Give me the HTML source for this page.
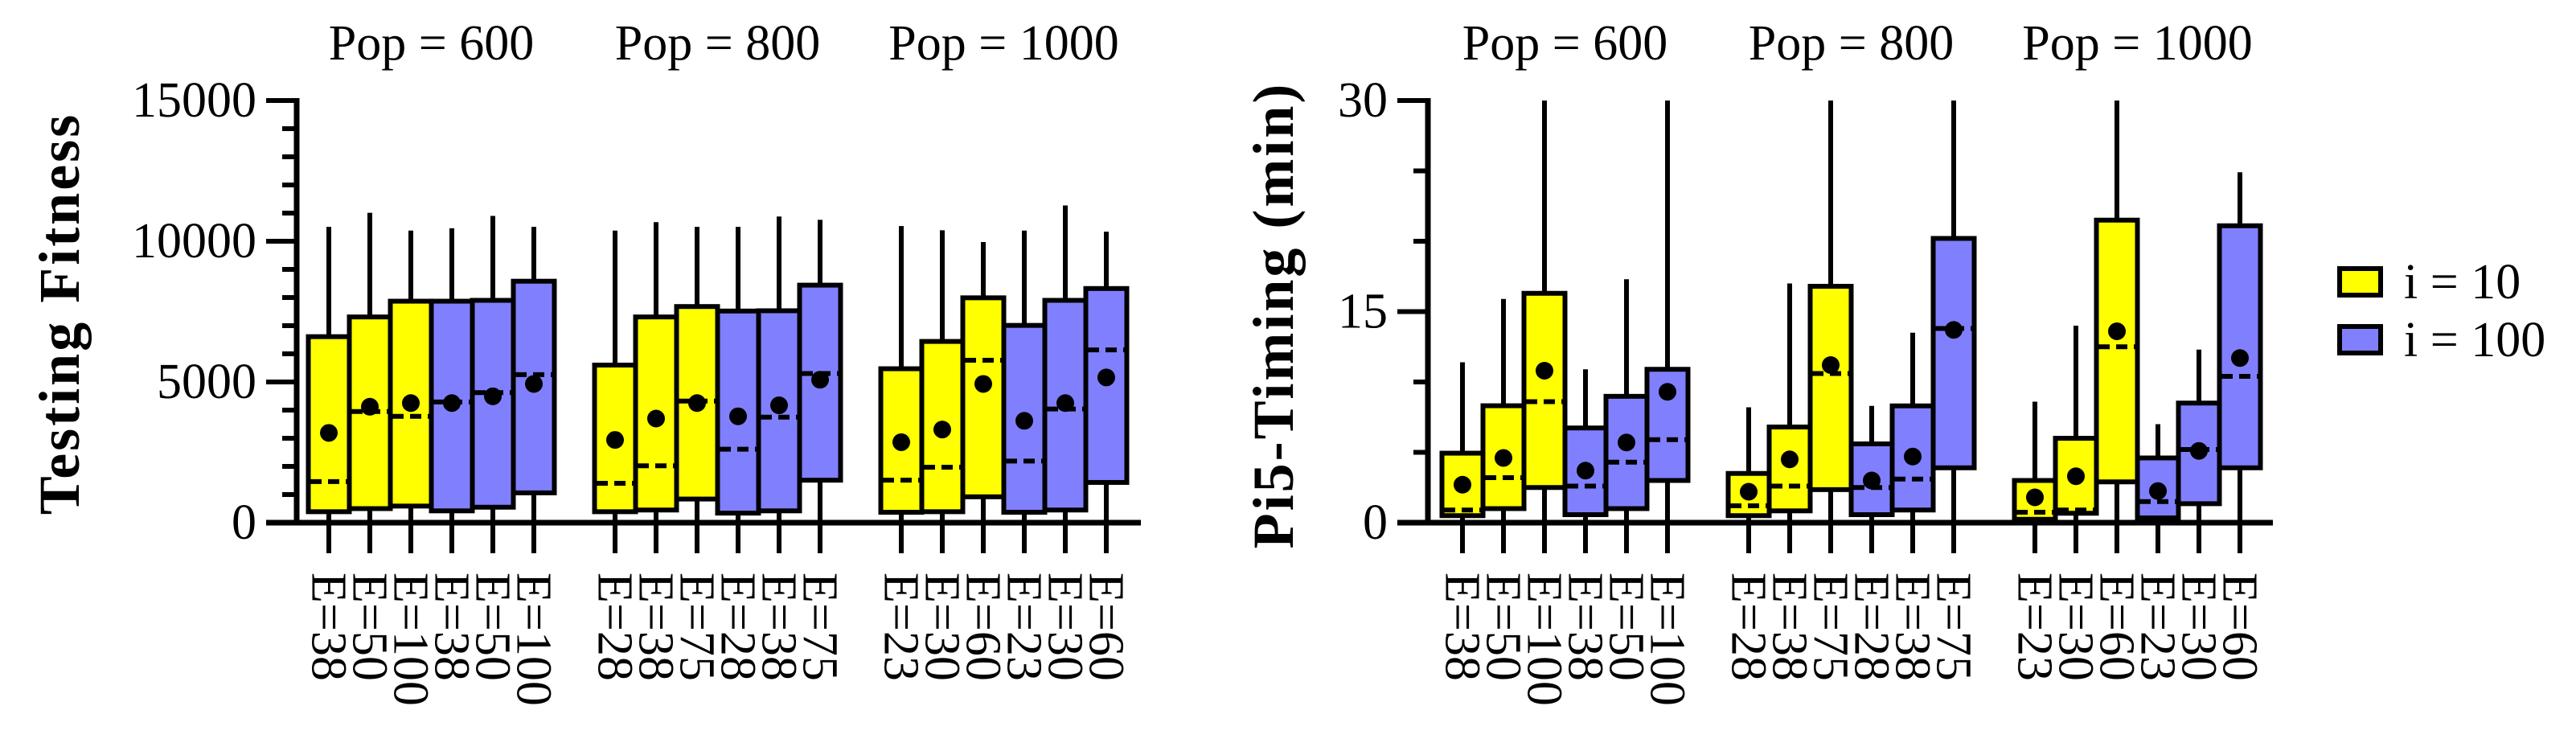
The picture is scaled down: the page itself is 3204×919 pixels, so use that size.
<!DOCTYPE html>
<html><head><meta charset="utf-8"><style>
html,body{margin:0;padding:0;background:#fff;}
svg{display:block;font-family:"Liberation Serif",serif;}
</style></head><body>
<svg id="chart" width="3204" height="919" viewBox="0 0 3204 919" xmlns="http://www.w3.org/2000/svg"></svg>
<script>
const NS="http://www.w3.org/2000/svg";
const svg=document.getElementById('chart');
// ---- data ----
const groupTitles=["Pop = 600","Pop = 800","Pop = 1000"];
const fitLabels=[["E=38","E=50","E=100","E=38","E=50","E=100"],["E=28","E=38","E=75","E=28","E=38","E=75"],["E=23","E=30","E=60","E=23","E=30","E=60"]];
const seriesOf=["i10","i10","i10","i100","i100","i100"];
const fitWhiskTop=[[10510,11010,10380,10460,10900,10510],[10380,10680,10510,10510,10880,10760],[10540,10390,9970,10380,11270,10340]];
const fitQ3=[[6610,7310,7870,7870,7900,8580],[5600,7310,7680,7520,7530,8440],[5470,6440,7990,7010,7900,8320]];
const fitQ1=[[390,500,590,420,550,1060],[390,450,840,340,420,1510],[370,390,920,370,450,1430]];
const fitMedian=[[1460,3950,3780,4290,4620,5260],[1400,2020,4320,2610,3750,5300],[1510,1970,5770,2190,4040,6140]];
const fitMean=[[3190,4120,4250,4250,4490,4930],[2940,3700,4250,3780,4170,5080],[2860,3310,4930,3620,4250,5160]];
const fitTicks=[0,5000,10000,15000];
const timeWhiskTop=[[11.4,15.9,30,10.9,17.3,30],[8.2,17.0,30,8.3,13.5,30],[8.6,14.0,30,7.0,12.3,24.9]];
const timeQ3=[[4.94,8.31,16.3,6.73,8.98,10.9],[3.5,6.8,16.8,5.6,8.3,20.2],[3.0,6.0,21.5,4.6,8.5,21.1]];
const timeQ1=[[0.5,1.0,2.5,0.57,1.0,3.0],[0.5,0.84,2.35,0.57,0.9,3.9],[0.24,0.67,2.9,0.34,1.35,3.9]];
const timeMedian=[[0.9,3.2,8.6,2.6,4.3,5.9],[1.2,2.6,10.6,2.5,3.1,13.8],[0.74,0.9,12.5,1.5,5.2,10.4]];
const timeMean=[[2.7,4.6,10.8,3.7,5.7,9.3],[2.2,4.5,11.2,3.0,4.7,13.7],[1.8,3.3,13.6,2.25,5.1,11.7]];
const timeTicks=[0,15,30];
const legendLabels=["i = 10","i = 100"];
const COL={i10:"#ffff00",i100:"#8080ff"};

function el(tag,attrs,parent){const e=document.createElementNS(NS,tag);for(const k in attrs)e.setAttribute(k,attrs[k]);(parent||svg).appendChild(e);return e;}

function panel(opt){
  const g=el('g',{});
  
  
  const y0=650,yTop=125;
  const yS=v=>y0-(v-opt.min)/(opt.max-opt.min)*(y0-yTop);
  const xS=(gi,bi)=>opt.gx0+gi*356+bi*51;
  for(let v=opt.min;v<=opt.max+1e-9;v+=opt.minor){
    const major=opt.ticks.some(t=>Math.abs(t-v)<1e-9);
    const t=el('line',{x1:major?opt.ax-38:opt.ax-18,x2:opt.ax,y1:yS(v),y2:yS(v),stroke:'#000','stroke-width':6},g);
    
    
  }
  opt.ticks.forEach(v=>{
    const t=el('text',{x:opt.ax-50,y:yS(v)+20,'text-anchor':'end','font-size':62},g);
    t.textContent=v;
    
    
  });
  const ya=el('line',{x1:opt.ax,x2:opt.ax,y1:yTop-3,y2:y0+3,stroke:'#000','stroke-width':7},g);
  
  
  const yt=el('text',{x:0,y:0,'text-anchor':'middle','font-size':72,'font-weight':'bold','letter-spacing':3,transform:`translate(${opt.titleX},${opt.titleY}) rotate(-90)`},g);
  yt.textContent=opt.title;
  
  
  for(let gi=0;gi<3;gi++){
    const gt=el('text',{x:xS(gi,2.5),y:74,'text-anchor':'middle','font-size':62},g);
    gt.textContent=groupTitles[gi];
    
    
    for(let bi=0;bi<6;bi++){
      const cx=xS(gi,bi);
      const bg=el('g',{},g);
      
      
      const w1=el('line',{x1:cx,x2:cx,y1:yS(opt.wt[gi][bi]),y2:yS(opt.q3[gi][bi]),stroke:'#000','stroke-width':6},bg);
      
      
      const w2=el('line',{x1:cx,x2:cx,y1:yS(opt.q1[gi][bi]),y2:688,stroke:'#000','stroke-width':6},bg);
      
      
      const r=el('rect',{x:cx-25.5,y:yS(opt.q3[gi][bi]),width:51,height:yS(opt.q1[gi][bi])-yS(opt.q3[gi][bi]),fill:COL[seriesOf[bi]],stroke:'#000','stroke-width':6},bg);
      
      
      const m=el('line',{x1:cx-23,x2:cx+23,y1:yS(opt.med[gi][bi]),y2:yS(opt.med[gi][bi]),stroke:'#000','stroke-width':6,'stroke-dasharray':'14 8'},bg);
      
      
      const d=el('circle',{cx:cx,cy:yS(opt.mean[gi][bi]),r:11,fill:'#000'},bg);
      
      
      const lb=el('text',{x:cx,y:712,dy:'0.33em','font-size':62,transform:`rotate(90,${cx},712)`},g);
      lb.textContent=opt.labels[gi][bi];
      
      
    }
  }
  const xa=el('line',{x1:opt.ax-38,x2:opt.xEnd,y1:y0,y2:y0,stroke:'#000','stroke-width':7},g);
  
  
}
panel({name:'fitness-panel',min:0,max:15000,minor:1000,ticks:fitTicks,ax:369,gx0:409,xEnd:1419,title:'Testing Fitness',titleX:98,titleY:390,labels:fitLabels,wt:fitWhiskTop,q3:fitQ3,q1:fitQ1,med:fitMedian,mean:fitMean});
panel({name:'timing-panel',min:0,max:30,minor:5,ticks:timeTicks,ax:1776,gx0:1819,xEnd:2827,title:'Pi5-Timing (min)',titleX:1608,titleY:392,labels:fitLabels,wt:timeWhiskTop,q3:timeQ3,q1:timeQ1,med:timeMedian,mean:timeMean});
const lg=el('g',{});


["i10","i100"].forEach((s,i)=>{
  const y=i===0?334:406;
  const sw=el('rect',{x:2910,y:y,width:51,height:33,fill:COL[s],stroke:'#000','stroke-width':6},lg);
  
  
  const t=el('text',{x:2990,y:y+37,'font-size':62},lg);
  t.textContent=legendLabels[i];
  
  
});
</script>
</body></html>
